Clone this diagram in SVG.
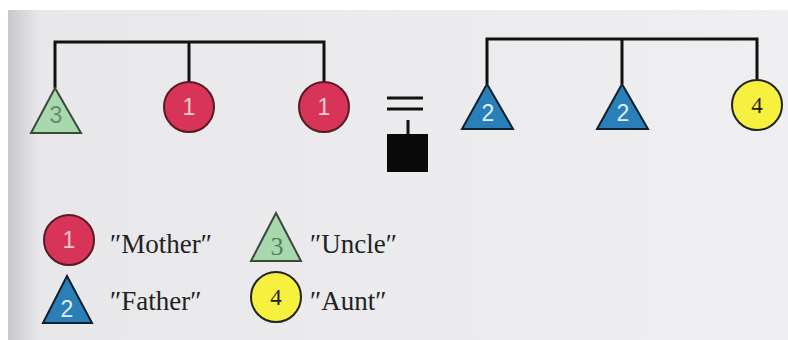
<svg xmlns="http://www.w3.org/2000/svg" width="788" height="340" viewBox="0 0 788 340">
<defs>
<linearGradient id="bg" x1="0" y1="0" x2="1" y2="0">
<stop offset="0" stop-color="#c9c9cd"/>
<stop offset="0.04" stop-color="#e8e8eb"/>
<stop offset="1" stop-color="#efeff1"/>
</linearGradient>
</defs>
<style>
.ln{stroke:#111;stroke-width:3;fill:none}
.red{fill:#d8345a;stroke:#5a1a22;stroke-width:2}
.grn{fill:#a9d7ae;stroke:#3a4a3a;stroke-width:2}
.blu{fill:#2b7fb8;stroke:#10202e;stroke-width:2}
.yel{fill:#f6f13e;stroke:#222;stroke-width:2}
.num{font-family:"Liberation Sans",Arial,sans-serif;font-size:23px;text-anchor:middle}
.lbl{font-family:"Liberation Serif","Times New Roman",serif;font-size:27px;fill:#222}
</style>
<rect width="788" height="340" fill="#ffffff"/>
<rect x="8" y="10" width="780" height="330" fill="url(#bg)"/>
<g id="connectors">
<path class="ln" d="M55,88 V42 H324 V82 M189,42 V82"/>
<path class="ln" d="M487,84 V39 H757 V79 M622,39 V84"/>
<path class="ln" d="M387,98 H423 M387,109 H423 M408,120 V134"/>
</g>
<g id="uncle3">
<polygon class="grn" points="55,88 81,133 31,133"/>
<text class="num" x="56" y="123" fill="#5f8f66">3</text>
</g>
<g id="mother1a">
<circle class="red" cx="189" cy="107" r="25"/>
<text class="num" x="189" y="115" fill="#f3c9cf">1</text>
</g>
<g id="mother1b">
<circle class="red" cx="324" cy="107" r="25"/>
<text class="num" x="324" y="115" fill="#f3c9cf">1</text>
</g>
<g id="proband">
<rect x="387" y="134" width="41" height="38" fill="#0a0a0a"/>
</g>
<g id="father2a">
<polygon class="blu" points="487,84 513,129 462,129"/>
<text class="num" x="488" y="121" fill="#dff0fa">2</text>
</g>
<g id="father2b">
<polygon class="blu" points="622,84 648,129 597,129"/>
<text class="num" x="623" y="121" fill="#dff0fa">2</text>
</g>
<g id="aunt4">
<circle class="yel" cx="757" cy="105" r="25"/>
<text class="num" x="757" y="113" fill="#222" style="font-family:'Liberation Serif',serif">4</text>
</g>
<g id="legend">
<circle class="red" cx="69" cy="240" r="25"/>
<text class="num" x="69" y="248" fill="#f3c9cf">1</text>
<text class="lbl" x="110" y="253">″Mother″</text>
<polygon class="grn" points="276,213 301,261 251,261"/>
<text class="num" x="277" y="255" fill="#4f7f56" style="font-family:'Liberation Serif',serif;font-size:26px">3</text>
<text class="lbl" x="310" y="253">″Uncle″</text>
<polygon class="blu" points="67,276 92,323 43,323"/>
<text class="num" x="67" y="317" fill="#dff0fa">2</text>
<text class="lbl" x="110" y="310">″Father″</text>
<circle class="yel" cx="276" cy="297" r="25"/>
<text class="num" x="276" y="305" fill="#222" style="font-family:'Liberation Serif',serif">4</text>
<text class="lbl" x="310" y="310">″Aunt″</text>
</g>
</svg>
